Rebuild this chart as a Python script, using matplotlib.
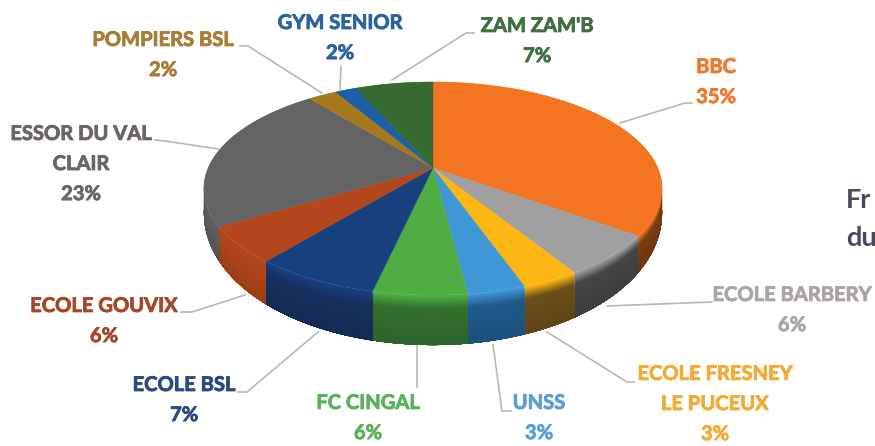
import numpy as np
import matplotlib
matplotlib.use("Agg")
import matplotlib.pyplot as plt
import matplotlib.patheffects as pe
from matplotlib.colors import to_rgb

plt.rcParams['font.family'] = ['Lato', 'DejaVu Sans']

# clockwise from 12 o'clock, unrounded shares estimated from the slice edges
names = ["BBC", "ECOLE BARBERY", "ECOLE FRESNEY\nLE PUCEUX", "UNSS", "FC CINGAL",
         "ECOLE BSL", "ECOLE GOUVIX", "ESSOR DU VAL\nCLAIR", "POMPIERS BSL",
         "GYM SENIOR", "ZAM ZAM'B"]
shares = [35.0, 6.2, 3.4, 3.4, 5.5, 7.4, 5.5, 22.7, 2.5, 1.8, 6.6]
pct_labels = ["35%", "6%", "3%", "3%", "6%", "7%", "6%", "23%", "2%", "2%", "7%"]

top_colors = ["#f47521", "#a0a0a0", "#fdb714", "#3f97d5", "#4fae43", "#17407f",
              "#b3461a", "#636363", "#a6791e", "#1c5fa8", "#376a30"]
wall_colors = ["#7a3d10", "#454545", "#6b4e1a", "#1f5a8c", "#33702f", "#15315f",
               "#b0451a", "#5e5e5e", "#6b4e1a", "#15407a", "#2a5024"]
text_colors = ["#ee7a30", "#aaa5a3", "#f2ab35", "#5b9fd6", "#5cb15a", "#2b4a80",
               "#a5482a", "#6b6563", "#a87d35", "#2a639f", "#3f7040"]

# label block centre and leader polyline, in pixels
label_pos = [(716, 82), (792, 310), (715, 404), (539, 418), (368, 418),
             (184, 400), (104, 321), (81, 164), (163, 55), (340, 38), (537, 41)]
leaders = [[(620, 123), (685, 103), (692, 103)],
           [(607, 306), (712, 302)],
           [(547, 332), (627, 382), (634, 382)],
           [(493, 345), (502, 411), (511, 411)],
           [(417, 345), (417, 387)],
           [(318, 332), (247, 392), (238, 392)],
           [(245, 295), (192, 312), (181, 312)],
           [(218, 149), (165, 141), (155, 140)],
           [(322, 93), (248, 46), (240, 46)],
           [(340, 90), (341, 66)],
           [(392, 80), (466, 33), (474, 33)]]

# perspective of the pie disc
cx, cy = 433, 168
B, A, p = 224.8, 102.6, 0.1925


def rim(angle):
    u, v = np.sin(angle), np.cos(angle)
    den = 1 + p * v
    return cx + B * u / den, cy - A * v / den, v


def mix(c1, c2, t):
    c1, c2 = np.array(to_rgb(c1)), np.array(to_rgb(c2))
    return tuple(c1 + (c2 - c1) * t)


fig = plt.figure(figsize=(8.75, 4.46), dpi=100)
ax = fig.add_axes([0, 0, 1, 1])
ax.set_xlim(0, 875)
ax.set_ylim(446, 0)
ax.axis('off')

edges = np.cumsum([0] + shares) / sum(shares) * 2 * np.pi

# side wall first, the top surface covers whatever is behind
# every band runs to the bottom so the next one paints over it, no seams
for i in range(len(shares)):
    ang = np.linspace(edges[i], edges[i + 1], 60)
    x, y, v = rim(ang)
    depth = 18 + 32 * np.abs(np.minimum(v, 0))
    for t0 in np.linspace(0, 1, 25, endpoint=False):
        if t0 < 0.25:
            col = mix(top_colors[i], wall_colors[i], t0 / 0.25)
        else:
            col = mix(wall_colors[i], "#000000", (t0 - 0.25) * 0.15)
        xs = np.r_[x, x[::-1]]
        ys = np.r_[y + depth * t0, (y + depth)[::-1]]
        ax.fill(xs, ys, color=col, lw=0, zorder=2)

# top surface
for i in range(len(shares)):
    ang = np.linspace(edges[i], edges[i + 1], 60)
    x, y, v = rim(ang)
    ax.fill(np.r_[cx, x], np.r_[cy, y], color=top_colors[i], lw=0.3, zorder=3)

# labels and leader lines
for i in range(len(names)):
    pts = np.array(leaders[i])
    ax.plot(pts[:, 0], pts[:, 1], color="#bdb6b0", lw=1.2, zorder=1)
    tx, ty = label_pos[i]
    t = ax.text(tx, ty, names[i] + "\n" + pct_labels[i], color=text_colors[i], ha='center',
                va='center', fontsize=14.5, fontweight='bold', linespacing=1.63, zorder=5)
    # the reference lettering is heavier than Lato Bold
    t.set_path_effects([pe.withStroke(linewidth=0.6, foreground=text_colors[i])])

# only the start of this text is in the picture
ax.text(846, 200, "Fr", color="#4a4a5c", fontsize=19.5, fontweight='bold', va='center')
ax.text(846, 238, "du", color="#4a4a5c", fontsize=19.5, fontweight='bold', va='center')

fig.savefig("out.png", dpi=100, facecolor='white')
